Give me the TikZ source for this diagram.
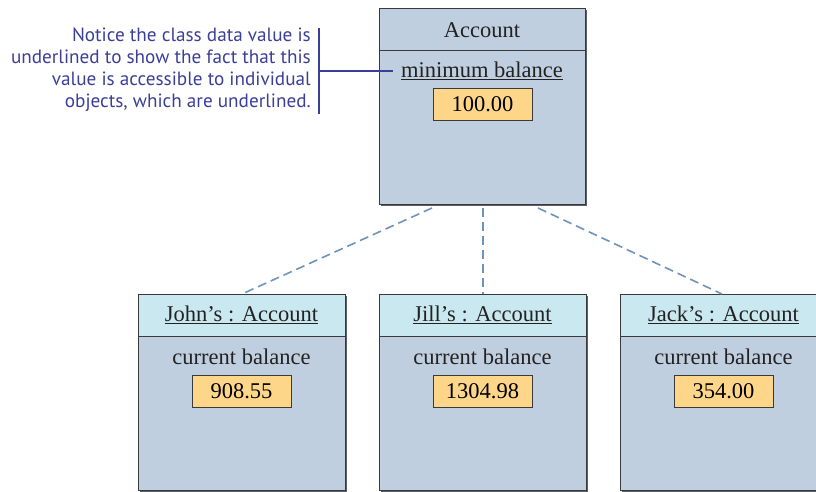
\documentclass[tikz,border=0pt]{standalone}
\usepackage{fontspec}
\setmainfont{Liberation Serif}
\newfontfamily\callfont{PT Sans}
\begin{document}
\begin{tikzpicture}[x=1pt,y=-1pt,
  boxfill/.style={fill=boxblue,draw=boxedge,line width=1pt},
  headfill/.style={fill=headcyan,draw=boxedge,line width=1pt},
  valbox/.style={draw=boxedge,fill=valorange,line width=1pt,minimum width=99pt,minimum height=32pt,inner sep=0pt,font=\fontsize{22.5}{24}\selectfont},
  lbl/.style={inner sep=0pt,font=\fontsize{22.5}{24}\selectfont,text=textdark},
  conn/.style={draw=connblue,line width=1.6pt,dash pattern=on 9pt off 5pt},
  callout/.style={draw=callblue,line width=1.6pt},
  shadowc/.style={fill=shadowgray,draw=none}]
\definecolor{boxblue}{HTML}{C0CFE0}
\definecolor{headcyan}{HTML}{C9E8EF}
\definecolor{valorange}{HTML}{FDD68A}
\definecolor{boxedge}{HTML}{3A3A3A}
\definecolor{shadowgray}{HTML}{5A5E66}
\definecolor{connblue}{HTML}{6E93BC}
\definecolor{callblue}{HTML}{3B3F98}
\definecolor{textdark}{HTML}{222222}
\useasboundingbox (0,0) rectangle (816,491);
\clip (0,0) rectangle (816,491);
% Account class box
\fill[shadowgray] (381,10) rectangle (587,206);
\node[boxfill,minimum width=206pt,minimum height=196pt,inner sep=0pt,anchor=north west] (acct) at (379,8) {};
\draw[boxedge,line width=1pt] (379,50) -- (585,50);
\node[lbl] (acctname) at (482,30) {Account};
\node[lbl] (minbal) at (482,71) {\underline{minimum balance}};
\node[valbox] (minval) at (482.5,104) {100.00};
% Object boxes
\foreach \nm/\x/\ttl/\val in {john/138/John’s : Account/908.55, jill/379/Jill’s : Account/1304.98, jack/620/Jack’s : Account/354.00}{
  \fill[shadowgray] (\x+2,296) rectangle (\x+209,493);
  \node[boxfill,minimum width=207pt,minimum height=196pt,inner sep=0pt,anchor=north west] (\nm) at (\x,294) {};
  \node[headfill,minimum width=207pt,minimum height=42pt,inner sep=0pt,anchor=north west] (\nm head) at (\x,294) {};
  \node[lbl] (\nm title) at (\x+103.5,315) {\underline{\ttl}};
  \node[lbl] (\nm cb) at (\x+103.5,357) {current balance};
  \node[valbox] (\nm val) at (\x+103.5,391) {\val};
}
% connectors
\coordinate (a1) at (432,208);
\coordinate (a2) at (483,208);
\coordinate (a3) at (538,208);
\coordinate (j1) at (242,294);
\coordinate (j2) at (483,294);
\coordinate (j3) at (722,294);
\draw[conn] (a1) -- (j1);
\draw[conn] (a2) -- (j2);
\draw[conn] (a3) -- (j3);
% callout
\node[inner sep=0pt,anchor=east,align=right,text=callblue,font=\callfont\fontsize{19.2}{22}\selectfont] (note) at (311,70)
  {Notice the class data value is\\underlined to show the fact that this\\value is accessible to individual\\objects, which are underlined.};
\coordinate (br1) at (319,28);
\coordinate (br2) at (319,114);
\coordinate (brm) at (319,71);
\coordinate (tip) at (393,71);
\draw[callout] (br1) -- (br2);
\draw[callout] (brm) -- (tip);
\end{tikzpicture}
\end{document}
